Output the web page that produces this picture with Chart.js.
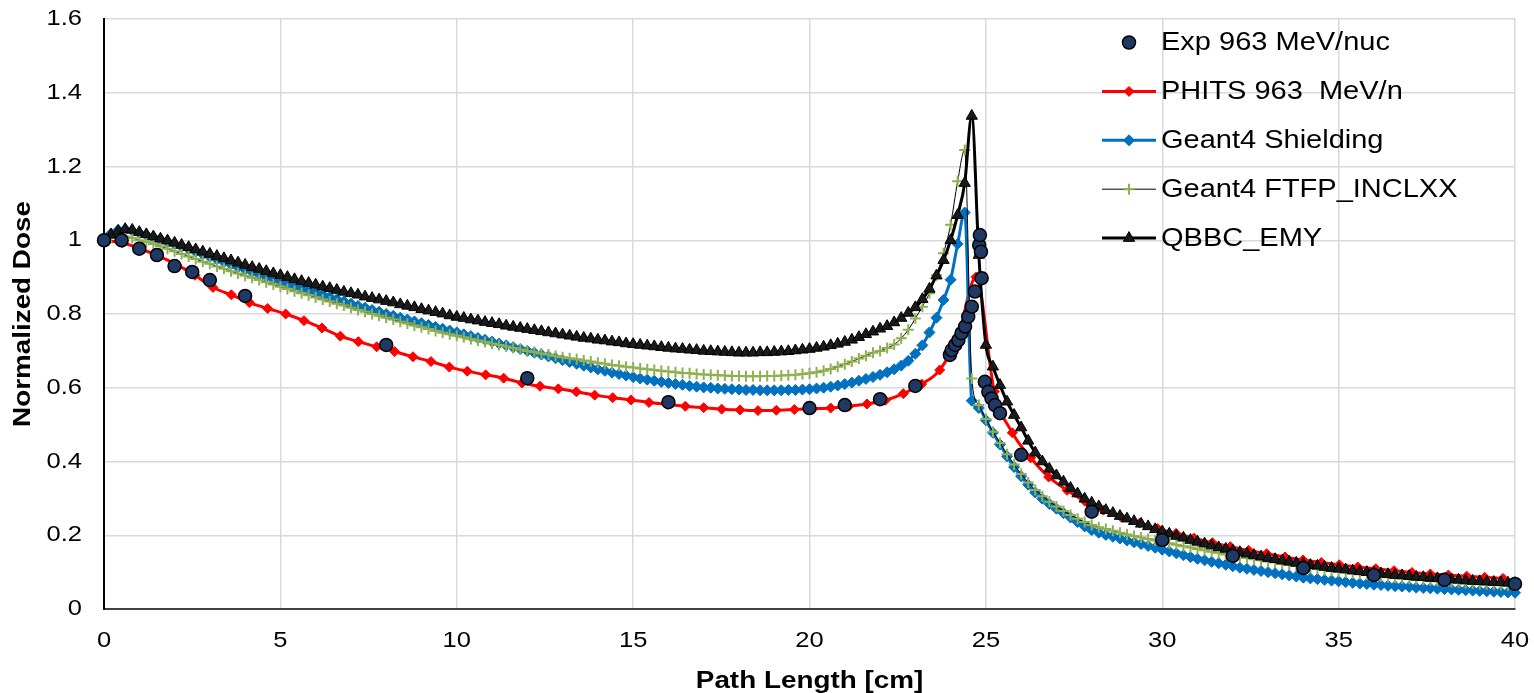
<!DOCTYPE html>
<html>
<head>
<meta charset="utf-8">
<script src="https://cdn.jsdelivr.net/npm/chart.js@4.4.1/dist/chart.umd.min.js"></script>
<style>
  html, body { margin: 0; padding: 0; background: #fff; }
  #wrap { width: 1534px; height: 693px; }
</style>
</head>
<body>
<div id="wrap"><canvas id="chart"></canvas></div>
<script>
// ---- data ----

// Experimental points
const expX = [0, 0.5, 1, 1.5, 2, 2.5, 3, 4, 8, 12, 16, 20, 21, 22, 23,
  23.98, 24.03, 24.13, 24.22, 24.31, 24.41, 24.5, 24.6, 24.69, 24.81, 24.83, 24.86, 24.88,
  24.97, 25.07, 25.16, 25.26, 25.4, 26, 28, 30, 32, 34, 36, 38, 40];
const expY = [1.0, 1.0, 0.977, 0.96, 0.93, 0.914, 0.892, 0.849, 0.716, 0.626, 0.561, 0.545, 0.553, 0.569, 0.605,
  0.689, 0.702, 0.716, 0.729, 0.748, 0.766, 0.793, 0.82, 0.861, 0.987, 1.014, 0.969, 0.897,
  0.616, 0.589, 0.571, 0.553, 0.531, 0.418, 0.264, 0.187, 0.144, 0.111, 0.092, 0.079, 0.068];

// PHITS
const phitsX = [0, 0.52, 1.03, 1.55, 2.06, 2.58, 3.09, 3.61, 4.12, 4.64,
  5.15, 5.67, 6.18, 6.70, 7.21, 7.73, 8.24, 8.76, 9.27, 9.79,
  10.30, 10.82, 11.33, 11.85, 12.36, 12.88, 13.39, 13.91, 14.42, 14.94,
  15.45, 15.97, 16.48, 17.00, 17.51, 18.03, 18.54, 19.06, 19.57, 20.09,
  20.60, 21.12, 21.63, 22.15, 22.66, 23.18, 23.69, 24.21, 24.72, 25.24,
  25.75, 26.27, 26.78, 27.30, 27.81, 28.33, 28.84, 29.36, 29.87, 30.39,
  30.90, 31.42, 31.93, 32.45, 32.96, 33.48, 33.99, 34.51, 35.02, 35.54,
  36.05, 36.57, 37.08, 37.60, 38.11, 38.63, 39.14, 39.66];
const phitsY = [1.000, 0.993, 0.977, 0.957, 0.934, 0.905, 0.872, 0.852, 0.831, 0.815,
  0.800, 0.782, 0.762, 0.740, 0.725, 0.711, 0.698, 0.684, 0.671, 0.656,
  0.645, 0.635, 0.626, 0.613, 0.604, 0.597, 0.589, 0.580, 0.573, 0.567,
  0.560, 0.555, 0.550, 0.546, 0.542, 0.540, 0.538, 0.539, 0.541, 0.543,
  0.545, 0.550, 0.556, 0.566, 0.584, 0.610, 0.648, 0.740, 0.900, 0.590,
  0.478, 0.410, 0.358, 0.322, 0.292, 0.268, 0.249, 0.233, 0.218, 0.205,
  0.192, 0.180, 0.169, 0.159, 0.150, 0.141, 0.133, 0.126, 0.120, 0.114,
  0.109, 0.104, 0.099, 0.095, 0.092, 0.089, 0.086, 0.083];

// Geant4 depth grid (cm)
const g4X = [
  0, 0.2, 0.4, 0.6, 0.8, 1, 1.2, 1.4, 1.6, 1.8,
  2, 2.2, 2.4, 2.6, 2.8, 3, 3.2, 3.4, 3.6, 3.8,
  4, 4.2, 4.4, 4.6, 4.8, 5, 5.2, 5.4, 5.6, 5.8,
  6, 6.2, 6.4, 6.6, 6.8, 7, 7.2, 7.4, 7.6, 7.8,
  8, 8.2, 8.4, 8.6, 8.8, 9, 9.2, 9.4, 9.6, 9.8,
  10, 10.2, 10.4, 10.6, 10.8, 11, 11.2, 11.4, 11.6, 11.8,
  12, 12.2, 12.4, 12.6, 12.8, 13, 13.2, 13.4, 13.6, 13.8,
  14, 14.2, 14.4, 14.6, 14.8, 15, 15.2, 15.4, 15.6, 15.8,
  16, 16.2, 16.4, 16.6, 16.8, 17, 17.2, 17.4, 17.6, 17.8,
  18, 18.2, 18.4, 18.6, 18.8, 19, 19.2, 19.4, 19.6, 19.8,
  20, 20.2, 20.4, 20.6, 20.8, 21, 21.2, 21.4, 21.6, 21.8,
  22, 22.2, 22.4, 22.6, 22.8, 23, 23.2, 23.4, 23.6, 23.8,
  24, 24.2, 24.4, 24.6, 24.8, 25, 25.2, 25.4, 25.6, 25.8,
  26, 26.2, 26.4, 26.6, 26.8, 27, 27.2, 27.4, 27.6, 27.8,
  28, 28.2, 28.4, 28.6, 28.8, 29, 29.2, 29.4, 29.6, 29.8,
  30, 30.2, 30.4, 30.6, 30.8, 31, 31.2, 31.4, 31.6, 31.8,
  32, 32.2, 32.4, 32.6, 32.8, 33, 33.2, 33.4, 33.6, 33.8,
  34, 34.2, 34.4, 34.6, 34.8, 35, 35.2, 35.4, 35.6, 35.8,
  36, 36.2, 36.4, 36.6, 36.8, 37, 37.2, 37.4, 37.6, 37.8,
  38, 38.2, 38.4, 38.6, 38.8, 39, 39.2, 39.4, 39.6, 39.8,
  40];

// Geant4 Shielding
const shieldingY = [
  1.000, 1.018, 1.028, 1.030, 1.026, 1.020, 1.014, 1.008, 1.002, 0.996,
  0.990, 0.983, 0.976, 0.969, 0.962, 0.955, 0.948, 0.941, 0.934, 0.927,
  0.920, 0.914, 0.907, 0.901, 0.894, 0.888, 0.882, 0.876, 0.870, 0.864,
  0.858, 0.852, 0.846, 0.840, 0.834, 0.828, 0.822, 0.817, 0.811, 0.806,
  0.800, 0.795, 0.790, 0.785, 0.780, 0.775, 0.770, 0.765, 0.760, 0.755,
  0.750, 0.745, 0.740, 0.735, 0.730, 0.725, 0.720, 0.715, 0.710, 0.705,
  0.700, 0.695, 0.690, 0.685, 0.680, 0.675, 0.670, 0.665, 0.660, 0.655,
  0.650, 0.646, 0.641, 0.637, 0.633, 0.629, 0.625, 0.622, 0.619, 0.616,
  0.613, 0.610, 0.608, 0.605, 0.603, 0.601, 0.600, 0.598, 0.597, 0.596,
  0.595, 0.594, 0.594, 0.593, 0.593, 0.593, 0.593, 0.594, 0.594, 0.595,
  0.596, 0.598, 0.600, 0.603, 0.606, 0.610, 0.614, 0.619, 0.624, 0.629,
  0.635, 0.642, 0.650, 0.660, 0.673, 0.692, 0.715, 0.750, 0.790, 0.838,
  0.893, 0.990, 1.075, 0.565, 0.545, 0.512, 0.478, 0.446, 0.414, 0.385,
  0.360, 0.337, 0.316, 0.299, 0.285, 0.272, 0.260, 0.248, 0.236, 0.224,
  0.214, 0.207, 0.201, 0.196, 0.191, 0.186, 0.181, 0.176, 0.171, 0.166,
  0.161, 0.156, 0.151, 0.146, 0.141, 0.136, 0.132, 0.128, 0.124, 0.120,
  0.116, 0.112, 0.109, 0.106, 0.103, 0.100, 0.097, 0.094, 0.091, 0.088,
  0.085, 0.083, 0.081, 0.079, 0.077, 0.075, 0.073, 0.071, 0.069, 0.068,
  0.066, 0.065, 0.063, 0.062, 0.061, 0.060, 0.058, 0.057, 0.056, 0.055,
  0.054, 0.053, 0.052, 0.051, 0.050, 0.049, 0.048, 0.047, 0.046, 0.045,
  0.044];

// Geant4 FTFP_INCLXX
const inclxxY = [
  1.000, 1.006, 1.010, 1.010, 1.006, 1.000, 0.995, 0.990, 0.984, 0.977,
  0.970, 0.963, 0.956, 0.949, 0.942, 0.936, 0.929, 0.923, 0.916, 0.910,
  0.904, 0.898, 0.892, 0.886, 0.880, 0.874, 0.868, 0.862, 0.856, 0.851,
  0.845, 0.839, 0.834, 0.828, 0.823, 0.817, 0.811, 0.806, 0.800, 0.795,
  0.790, 0.785, 0.779, 0.774, 0.769, 0.764, 0.759, 0.754, 0.749, 0.745,
  0.741, 0.737, 0.732, 0.728, 0.724, 0.720, 0.716, 0.712, 0.708, 0.704,
  0.700, 0.697, 0.693, 0.690, 0.686, 0.683, 0.680, 0.677, 0.674, 0.671,
  0.668, 0.665, 0.662, 0.660, 0.657, 0.655, 0.652, 0.650, 0.648, 0.646,
  0.644, 0.642, 0.640, 0.639, 0.637, 0.636, 0.635, 0.634, 0.633, 0.632,
  0.632, 0.631, 0.631, 0.631, 0.632, 0.632, 0.633, 0.634, 0.635, 0.637,
  0.639, 0.642, 0.646, 0.651, 0.657, 0.664, 0.671, 0.679, 0.687, 0.695,
  0.700, 0.708, 0.717, 0.734, 0.757, 0.788, 0.820, 0.856, 0.905, 0.965,
  1.042, 1.160, 1.245, 0.625, 0.553, 0.515, 0.481, 0.450, 0.420, 0.392,
  0.366, 0.343, 0.323, 0.306, 0.291, 0.278, 0.266, 0.255, 0.245, 0.236,
  0.228, 0.222, 0.217, 0.212, 0.207, 0.202, 0.198, 0.194, 0.190, 0.186,
  0.182, 0.178, 0.174, 0.170, 0.167, 0.163, 0.159, 0.155, 0.152, 0.148,
  0.145, 0.141, 0.138, 0.135, 0.132, 0.129, 0.126, 0.123, 0.120, 0.117,
  0.114, 0.111, 0.109, 0.106, 0.104, 0.101, 0.099, 0.097, 0.095, 0.093,
  0.091, 0.089, 0.087, 0.085, 0.083, 0.082, 0.080, 0.079, 0.077, 0.076,
  0.074, 0.073, 0.072, 0.070, 0.069, 0.068, 0.067, 0.066, 0.065, 0.064,
  0.063];

// QBBC_EMY
const qbbcY = [
  1.000, 1.015, 1.025, 1.030, 1.028, 1.022, 1.016, 1.010, 1.004, 0.999,
  0.993, 0.987, 0.981, 0.975, 0.969, 0.963, 0.957, 0.951, 0.945, 0.939,
  0.933, 0.927, 0.922, 0.916, 0.910, 0.905, 0.900, 0.894, 0.889, 0.884,
  0.879, 0.874, 0.870, 0.865, 0.860, 0.856, 0.852, 0.847, 0.843, 0.839,
  0.835, 0.831, 0.826, 0.822, 0.818, 0.813, 0.809, 0.805, 0.801, 0.796,
  0.792, 0.789, 0.785, 0.782, 0.778, 0.775, 0.772, 0.768, 0.765, 0.762,
  0.759, 0.756, 0.753, 0.750, 0.747, 0.744, 0.741, 0.738, 0.735, 0.733,
  0.730, 0.728, 0.725, 0.723, 0.720, 0.718, 0.716, 0.714, 0.712, 0.710,
  0.708, 0.706, 0.705, 0.703, 0.702, 0.700, 0.699, 0.698, 0.697, 0.696,
  0.695, 0.695, 0.695, 0.696, 0.696, 0.697, 0.698, 0.699, 0.701, 0.703,
  0.705, 0.708, 0.711, 0.715, 0.719, 0.724, 0.730, 0.737, 0.745, 0.752,
  0.760, 0.767, 0.777, 0.789, 0.803, 0.818, 0.840, 0.868, 0.904, 0.946,
  1.000, 1.068, 1.155, 1.337, 0.960, 0.716, 0.657, 0.607, 0.562, 0.526,
  0.492, 0.456, 0.424, 0.400, 0.380, 0.362, 0.345, 0.328, 0.313, 0.299,
  0.288, 0.278, 0.268, 0.260, 0.252, 0.245, 0.238, 0.231, 0.224, 0.216,
  0.210, 0.204, 0.198, 0.193, 0.187, 0.182, 0.177, 0.172, 0.167, 0.163,
  0.158, 0.154, 0.150, 0.146, 0.142, 0.138, 0.135, 0.131, 0.128, 0.125,
  0.122, 0.119, 0.117, 0.114, 0.111, 0.109, 0.107, 0.104, 0.102, 0.100,
  0.098, 0.096, 0.094, 0.092, 0.091, 0.089, 0.087, 0.086, 0.084, 0.083,
  0.081, 0.080, 0.079, 0.077, 0.076, 0.075, 0.074, 0.073, 0.072, 0.071,
  0.070];

const xTicks = [0, 5, 10, 15, 20, 25, 30, 35, 40];
const yTicks = [0, 0.2, 0.4, 0.6, 0.8, 1, 1.2, 1.4, 1.6];

const FONT = '"Liberation Sans", Arial, sans-serif';
const TEXT_STRETCH = 1.16; // the original's lettering is drawn a bit wide

function pts(xs, ys) {
  return xs.map((x, i) => ({ x: x, y: ys[i] }));
}

// legend drawn inside the plot, top right
const insideLegend = {
  id: 'insideLegend',
  afterDraw(chart) {
    const ctx = chart.ctx;
    const area = chart.chartArea;
    const mx = area.right - 386, tx = area.right - 354;
    ctx.save();
    chart.data.datasets.forEach((ds, i) => {
      const y = area.top + 23.5 + i * 48.9;
      if (ds.showLine) {
        ctx.strokeStyle = ds.borderColor;
        ctx.lineWidth = ds.borderWidth;
        ctx.beginPath();
        ctx.moveTo(mx - 27, y);
        ctx.lineTo(mx + 27, y);
        ctx.stroke();
      }
      ctx.fillStyle = ds.pointBackgroundColor;
      ctx.strokeStyle = ds.pointBorderColor;
      ctx.lineWidth = ds.pointBorderWidth;
      Chart.helpers.drawPoint(ctx, {
        pointStyle: ds.pointStyle, radius: ds.pointRadius,
        rotation: 0, borderWidth: ds.pointBorderWidth
      }, mx, y);
      ctx.fillStyle = '#000';
      ctx.font = '25px ' + FONT;
      ctx.textAlign = 'left';
      ctx.textBaseline = 'middle';
      ctx.fillText(ds.label, tx, y + 1);
    });
    ctx.restore();
  }
};

const ctx = document.getElementById('chart').getContext('2d');
// widen every piece of text around its anchor point
const plainFillText = ctx.fillText.bind(ctx);
ctx.fillText = function (text, x, y) {
  this.save();
  this.translate(x, y);
  this.scale(TEXT_STRETCH, 1);
  plainFillText(text, 0, 0);
  this.restore();
};

new Chart(ctx, {
  type: 'scatter',
  data: {
    datasets: [{
      label: 'Exp 963 MeV/nuc',
      data: pts(expX, expY),
      showLine: false,
      pointStyle: 'circle',
      pointRadius: 6.5,
      pointBackgroundColor: '#1f3864',
      pointBorderColor: '#000',
      pointBorderWidth: 1.5,
      order: 0,
      clip: false
    }, {
      label: 'PHITS 963  MeV/n',
      data: pts(phitsX, phitsY),
      showLine: true,
      borderColor: '#ff0000',
      borderWidth: 3,
      pointStyle: 'rectRot',
      pointRadius: 5,
      pointBackgroundColor: '#ff0000',
      pointBorderColor: '#ff0000',
      pointBorderWidth: 1,
      cubicInterpolationMode: 'monotone',
      order: 4,
      clip: false
    }, {
      label: 'Geant4 Shielding',
      data: pts(g4X, shieldingY),
      showLine: true,
      borderColor: '#0070c0',
      borderWidth: 3,
      pointStyle: 'rectRot',
      pointRadius: 5.5,
      pointBackgroundColor: '#0070c0',
      pointBorderColor: '#0070c0',
      pointBorderWidth: 1,
      cubicInterpolationMode: 'monotone',
      order: 3,
      clip: false
    }, {
      label: 'Geant4 FTFP_INCLXX',
      data: pts(g4X, inclxxY),
      showLine: true,
      borderColor: '#000',
      borderWidth: 1,
      pointStyle: 'cross',
      pointRadius: 5.5,
      pointBackgroundColor: '#8fb050',
      pointBorderColor: '#8fb050',
      pointBorderWidth: 2,
      cubicInterpolationMode: 'monotone',
      order: 2,
      clip: false
    }, {
      label: 'QBBC_EMY',
      data: pts(g4X, qbbcY),
      showLine: true,
      borderColor: '#000',
      borderWidth: 3,
      pointStyle: 'triangle',
      pointRadius: 6.5,
      pointBackgroundColor: '#1a1a1a',
      pointBorderColor: '#000',
      pointBorderWidth: 1,
      cubicInterpolationMode: 'monotone',
      order: 1,
      clip: false
    }]
  },
  options: {
    responsive: true,
    maintainAspectRatio: false,
    animation: false,
    events: [],
    layout: { padding: { top: 19, right: 19, left: 0, bottom: 0 } },
    plugins: {
      legend: { display: false },
      tooltip: { enabled: false }
    },
    scales: {
      x: {
        type: 'linear',
        min: 0, max: 40,
        afterBuildTicks: s => { s.ticks = xTicks.map(v => ({ value: v })); },
        afterFit: s => { s.height = 84; s.paddingLeft = 0; s.paddingRight = 0; },
        grid: { color: '#d9d9d9', lineWidth: 1.5, drawTicks: false },
        border: { color: '#404040', width: 2 },
        ticks: { color: '#000', padding: 19, font: { family: FONT, size: 22 } },
        title: {
          display: true, text: 'Path Length [cm]', color: '#000',
          padding: { top: 0, bottom: 0 },
          font: { family: FONT, size: 24, weight: 'bold', lineHeight: 1 }
        }
      },
      y: {
        type: 'linear',
        min: 0, max: 1.6,
        afterBuildTicks: s => { s.ticks = yTicks.map(v => ({ value: v })); },
        afterFit: s => { s.width = 104; s.paddingTop = 0; s.paddingBottom = 0; },
        grid: { color: '#d9d9d9', lineWidth: 1.5, drawTicks: false },
        border: { color: '#000', width: 2 },
        ticks: {
          color: '#000', padding: 22, font: { family: FONT, size: 22 },
          callback: v => String(Number(v.toFixed(1)))
        },
        title: {
          display: true, text: 'Normalized Dose', color: '#000',
          padding: { top: 11, bottom: 0 },
          font: { family: FONT, size: 24, weight: 'bold', lineHeight: 1 }
        }
      }
    }
  },
  plugins: [insideLegend]
});
</script>
</body>
</html>
